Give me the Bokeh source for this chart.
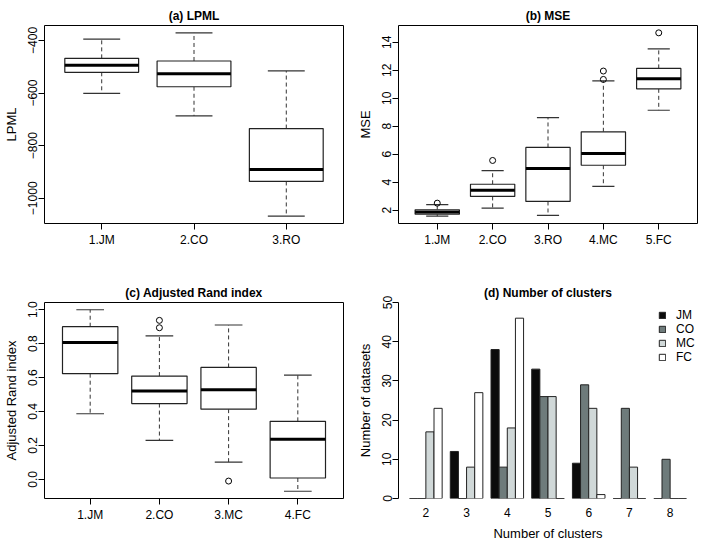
from bokeh.plotting import figure
from bokeh.layouts import gridplot
from bokeh.models import FixedTicker, Range1d, Legend, LegendItem, NumeralTickFormatter
from bokeh.embed import file_html
from bokeh.resources import INLINE

FONT = "Liberation Sans"

# ---------------- data ----------------
# (a) LPML boxplot stats
lpml_methods = ["1.JM", "2.CO", "3.RO"]
lpml_lo = [-601, -687, -1068]
lpml_q1 = [-521, -576, -936]
lpml_med = [-494, -527, -891]
lpml_q3 = [-468, -478, -735]
lpml_hi = [-395, -371, -516]
lpml_out = [[], [], []]
lpml_ticks = [-1000, -800, -600, -400]

# (b) MSE boxplot stats
mse_methods = ["1.JM", "2.CO", "3.RO", "4.MC", "5.FC"]
mse_lo = [1.57, 2.14, 1.62, 3.70, 9.14]
mse_q1 = [1.71, 2.98, 2.62, 5.21, 10.67]
mse_med = [1.86, 3.42, 4.97, 6.05, 11.39]
mse_q3 = [2.03, 3.85, 6.48, 7.60, 12.13]
mse_hi = [2.39, 4.83, 8.61, 11.24, 13.52]
mse_out = [[2.50], [5.55], [], [11.34, 11.94], [14.67]]
mse_ticks = [2, 4, 6, 8, 10, 12, 14]

# (c) Adjusted Rand index boxplot stats
ari_methods = ["1.JM", "2.CO", "3.MC", "4.FC"]
ari_lo = [0.387, 0.230, 0.102, -0.070]
ari_q1 = [0.623, 0.447, 0.414, 0.008]
ari_med = [0.807, 0.521, 0.529, 0.236]
ari_q3 = [0.900, 0.609, 0.660, 0.342]
ari_hi = [1.000, 0.846, 0.910, 0.615]
ari_out = [[], [0.894, 0.9375], [-0.010], []]
ari_ticks = [0.0, 0.2, 0.4, 0.6, 0.8, 1.0]

# (d) Number of clusters
n_clusters = ["2", "3", "4", "5", "6", "7", "8"]
series_names = ["JM", "CO", "MC", "FC"]
jm_counts = [0, 12, 38, 33, 9, 0, 0]
co_counts = [0, 0, 8, 26, 29, 23, 10]
mc_counts = [17, 8, 18, 26, 23, 8, 0]
fc_counts = [23, 27, 46, 0, 1, 0, 0]
series_colors = ["#0b0b0b", "#6e7b7b", "#d0d8d8", "#ffffff"]
count_ticks = [0, 10, 20, 30, 40, 50]

W = 354
H_TOP, H_BOT = 275, 276


def style_axes(p):
    p.grid.visible = False
    p.background_fill_color = "white"
    p.border_fill_color = "white"
    p.title.text_font = FONT
    p.title.text_font_size = "12px"
    p.title.text_font_style = "bold"
    p.title.align = "center"
    p.title.text_color = "black"
    p.title.standoff = 6
    for ax in (p.xaxis[0], p.yaxis[0]):
        ax.major_tick_out = 6
        ax.major_tick_in = 0
        ax.minor_tick_line_color = None
        ax.major_tick_line_color = "black"
        ax.major_label_text_font = FONT
        ax.major_label_text_font_size = "12px"
        ax.major_label_text_color = "black"
        ax.axis_label_text_font = FONT
        ax.axis_label_text_font_size = "13px"
        ax.axis_label_text_font_style = "normal"
        ax.axis_label_text_color = "black"
    p.yaxis[0].major_label_orientation = "vertical"
    p.yaxis[0].major_label_standoff = 1
    p.yaxis[0].axis_label_standoff = 7
    p.xaxis[0].major_label_standoff = 3


def box_fig(title, ylabel, cats, lo, q1, med, q3, hi, outs, yticks, height, borders, fmt=None):
    n = len(cats)
    xs = list(range(1, n + 1))
    xpad = 0.04 * n
    all_low = min(lo + [v for o in outs for v in o])
    all_high = max(hi + [v for o in outs for v in o])
    ypad = 0.04 * (all_high - all_low)
    left, right, top, bottom = borders
    p = figure(width=W, height=height, output_backend="svg", toolbar_location=None,
               title=title,
               x_range=Range1d(0.5 - xpad, n + 0.5 + xpad),
               y_range=Range1d(all_low - ypad, all_high + ypad),
               min_border_left=left, min_border_right=right,
               min_border_top=top, min_border_bottom=bottom)
    style_axes(p)
    p.outline_line_color = "black"
    p.outline_line_width = 1
    p.xaxis[0].axis_line_color = None
    p.yaxis[0].axis_line_color = None
    p.xaxis[0].ticker = FixedTicker(ticks=xs)
    p.xaxis[0].major_label_overrides = {x: c for x, c in zip(xs, cats)}
    p.yaxis[0].ticker = FixedTicker(ticks=yticks)
    if fmt is not None:
        p.yaxis[0].formatter = fmt
    p.yaxis[0].axis_label = ylabel

    wcol = "#333333"
    # whiskers
    p.segment(x0=xs, y0=q3, x1=xs, y1=hi, line_color=wcol, line_width=1, line_dash="4 3")
    p.segment(x0=xs, y0=q1, x1=xs, y1=lo, line_color=wcol, line_width=1, line_dash="4 3")
    # caps
    capl = [x - 0.2 for x in xs]
    capr = [x + 0.2 for x in xs]
    p.segment(x0=capl, y0=hi, x1=capr, y1=hi, line_color=wcol, line_width=1.2)
    p.segment(x0=capl, y0=lo, x1=capr, y1=lo, line_color=wcol, line_width=1.2)
    # boxes
    p.vbar(x=xs, width=0.8, bottom=q1, top=q3, fill_color="white",
           line_color="#222222", line_width=1.2)
    # medians
    p.segment(x0=[x - 0.4 for x in xs], y0=med, x1=[x + 0.4 for x in xs], y1=med,
              line_color="black", line_width=3)
    # outliers
    ox = [x for x, o in zip(xs, outs) for _ in o]
    oy = [v for o in outs for v in o]
    if ox:
        p.scatter(x=ox, y=oy, marker="circle", size=6, fill_color=None,
                  line_color="black", line_width=1)
    return p


p1 = box_fig("(a) LPML", "LPML", lpml_methods, lpml_lo, lpml_q1, lpml_med, lpml_q3,
             lpml_hi, lpml_out, lpml_ticks, H_TOP, (44, 11, 25, 52))
p2 = box_fig("(b) MSE", "MSE", mse_methods, mse_lo, mse_q1, mse_med, mse_q3,
             mse_hi, mse_out, mse_ticks, H_TOP, (44, 11, 25, 52))
p3 = box_fig("(c) Adjusted Rand index", "Adjusted Rand index", ari_methods, ari_lo,
             ari_q1, ari_med, ari_q3, ari_hi, ari_out, ari_ticks, H_BOT, (44, 11, 27, 53),
             fmt=NumeralTickFormatter(format="0.0"))

# ---------------- (d) grouped bar chart ----------------
ng = len(n_clusters)
ns = len(series_names)
group_w = ns + 1
xmin_edge = 1
xmax_edge = group_w * ng
xpad = 0.04 * (xmax_edge - xmin_edge)
p4 = figure(width=W, height=H_BOT, output_backend="svg", toolbar_location=None,
            title="(d) Number of clusters",
            x_range=Range1d(xmin_edge - xpad, xmax_edge + xpad),
            y_range=Range1d(0, 50),
            min_border_left=44, min_border_right=11, min_border_top=27, min_border_bottom=53)
style_axes(p4)
p4.outline_line_color = None
p4.xaxis[0].axis_line_color = None
p4.xaxis[0].major_tick_line_color = None
p4.xaxis[0].major_tick_out = 0
p4.xaxis[0].major_label_standoff = 9
p4.xaxis[0].axis_label_standoff = 6
p4.yaxis[0].axis_line_color = "black"
centers = [group_w * k + 1 + ns / 2 for k in range(ng)]
p4.xaxis[0].ticker = FixedTicker(ticks=centers)
p4.xaxis[0].major_label_overrides = {c: lab for c, lab in zip(centers, n_clusters)}
p4.xaxis[0].axis_label = "Number of clusters"
p4.yaxis[0].ticker = FixedTicker(ticks=count_ticks)
p4.yaxis[0].axis_label = "Number of datasets"

items = []
for j, (name, vals, col) in enumerate(zip(series_names,
                                          [jm_counts, co_counts, mc_counts, fc_counts],
                                          series_colors)):
    bx = [group_w * k + 1.5 + j for k in range(ng)]
    r = p4.vbar(x=bx, width=1, bottom=0, top=vals, fill_color=col,
                line_color="#222222", line_width=1)
    zx = [x for x, v in zip(bx, vals) if v == 0]
    if zx:
        p4.segment(x0=[x - 0.5 for x in zx], y0=[0] * len(zx),
                   x1=[x + 0.5 for x in zx], y1=[0] * len(zx),
                   line_color="#222222", line_width=1)
    items.append(LegendItem(label=name, renderers=[r]))

legend = Legend(items=items, location=(260, 134), orientation="vertical")
legend.padding = 0
legend.spacing = -1
legend.margin = 0
legend.glyph_width = 8
legend.glyph_height = 8
legend.label_standoff = 10
legend.label_height = 12
legend.label_text_font = FONT
legend.label_text_font_size = "12px"
legend.label_text_color = "black"
legend.border_line_color = None
legend.background_fill_color = None
legend.background_fill_alpha = 0
p4.add_layout(legend, "center")

grid = gridplot([[p1, p2], [p3, p4]], toolbar_location=None)
open("out.html", "w").write(file_html(grid, INLINE))
